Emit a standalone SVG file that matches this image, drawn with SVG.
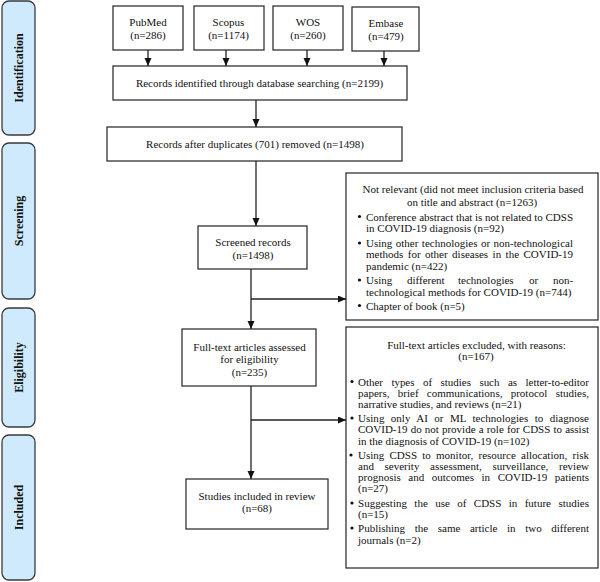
<svg xmlns="http://www.w3.org/2000/svg" width="600" height="582" viewBox="0 0 600 582">
<defs>
<style>
.panel{fill:#cfeafc;stroke:#3a3a3a;stroke-width:1.3}
.plabel{font-family:"Liberation Serif","Times New Roman",serif;font-size:12px;font-weight:bold;fill:#111;text-anchor:middle}
.box{fill:#fff;stroke:#333;stroke-width:1.3}
.t{font-family:"Liberation Serif","Times New Roman",serif;font-size:11px;fill:#111}
.c{text-anchor:middle}
.conn{fill:none;stroke:#222;stroke-width:1.3}
.bul{fill:#111}
</style>
<marker id="ah" markerUnits="userSpaceOnUse" markerWidth="8" markerHeight="8" refX="8" refY="3.5" orient="auto">
<path d="M0,0 L8,3.5 L0,7 z" fill="#111"/>
</marker>
</defs>
<rect width="600" height="582" fill="#fff"/>

<g id="phase-identification">
<rect class="panel" x="2" y="1" width="33" height="134" rx="7"/>
<text class="plabel" transform="translate(23,68) rotate(-90)">Identification</text>
</g>
<g id="phase-screening">
<rect class="panel" x="2" y="143" width="33" height="156" rx="7"/>
<text class="plabel" transform="translate(23,221) rotate(-90)">Screening</text>
</g>
<g id="phase-eligibility">
<rect class="panel" x="2" y="308" width="33" height="119" rx="7"/>
<text class="plabel" transform="translate(23,367.5) rotate(-90)">Eligibility</text>
</g>
<g id="phase-included">
<rect class="panel" x="2" y="435" width="33" height="145" rx="7"/>
<text class="plabel" transform="translate(23,507.5) rotate(-90)">Included</text>
</g>

<g id="pubmed">
<rect class="box" x="113" y="6" width="70" height="44"/>
<text class="t c" x="148" y="26">PubMed</text>
<text class="t c" x="148" y="39">(n=286)</text>
</g>
<g id="scopus">
<rect class="box" x="194" y="6" width="70" height="44"/>
<text class="t c" x="228.5" y="26">Scopus</text>
<text class="t c" x="228.5" y="39">(n=1174)</text>
</g>
<g id="wos">
<rect class="box" x="273" y="6" width="70" height="44"/>
<text class="t c" x="308" y="26">WOS</text>
<text class="t c" x="308" y="39">(n=260)</text>
</g>
<g id="embase">
<rect class="box" x="352" y="7" width="67" height="44"/>
<text class="t c" x="386" y="27">Embase</text>
<text class="t c" x="386" y="40">(n=479)</text>
</g>

<g id="identified">
<rect class="box" x="113" y="66" width="294" height="34"/>
<text class="t c" x="259.5" y="87">Records identified through database searching (n=2199)</text>
</g>
<g id="duplicates">
<rect class="box" x="107" y="127" width="295" height="34"/>
<text class="t c" x="255" y="148">Records after duplicates (701) removed (n=1498)</text>
</g>
<g id="screened">
<rect class="box" x="198" y="226" width="109" height="43"/>
<text class="t c" x="253" y="246">Screened records</text>
<text class="t c" x="253" y="259">(n=1498)</text>
</g>
<g id="fulltext">
<rect class="box" x="182" y="329" width="134" height="57"/>
<text class="t c" x="249.5" y="351">Full-text articles assessed</text>
<text class="t c" x="249.5" y="363">for eligibility</text>
<text class="t c" x="249.5" y="376">(n=235)</text>
</g>
<g id="included">
<rect class="box" x="186" y="479" width="142" height="50"/>
<text class="t c" x="257" y="500">Studies included in review</text>
<text class="t c" x="257" y="512">(n=68)</text>
</g>

<g id="not-relevant">
<rect class="box" x="346" y="173" width="252" height="147"/>
<text class="t c" x="473" y="193">Not relevant (did not meet inclusion criteria based</text>
<text class="t c" x="472" y="205.5">on title and abstract (n=1263)</text>
<circle class="bul" cx="359.5" cy="216.5" r="1.6"/>
<text class="t" x="366" y="220.5" textLength="207" lengthAdjust="spacing">Conference abstract that is not related to CDSS</text>
<text class="t" x="366" y="232">in COVID-19 diagnosis (n=92)</text>
<circle class="bul" cx="359.5" cy="243" r="1.6"/>
<text class="t" x="366" y="247" word-spacing="0.7" textLength="207" lengthAdjust="spacing">Using other technologies or non-technological</text>
<text class="t" x="366" y="258" word-spacing="1.7" textLength="207" lengthAdjust="spacing">methods for other diseases in the COVID-19</text>
<text class="t" x="366" y="270">pandemic (n=422)</text>
<circle class="bul" cx="359.5" cy="280" r="1.6"/>
<text class="t" y="284"><tspan x="366">Using</tspan><tspan x="407">different</tspan><tspan x="458">technologies</tspan><tspan x="529">or</tspan><tspan x="553">non-</tspan></text>
<text class="t" x="366" y="295.5">technological methods for COVID-19 (n=744)</text>
<circle class="bul" cx="359.5" cy="305.5" r="1.6"/>
<text class="t" x="366" y="309.5">Chapter of book (n=5)</text>
</g>

<g id="excluded">
<rect class="box" x="346" y="327" width="252" height="241"/>
<text class="t c" x="476.5" y="349">Full-text articles excluded, with reasons:</text>
<text class="t c" x="476" y="360">(n=167)</text>
<circle class="bul" cx="352" cy="381.5" r="1.6"/>
<text class="t" x="358" y="385.5" word-spacing="5.8" textLength="231" lengthAdjust="spacing">Other types of studies such as letter-to-editor</text>
<text class="t" x="358" y="396.5" word-spacing="5.5" textLength="231" lengthAdjust="spacing">papers, brief communications, protocol studies,</text>
<text class="t" x="358" y="408">narrative studies, and reviews (n=21)</text>
<circle class="bul" cx="352" cy="418" r="1.6"/>
<text class="t" x="358" y="422" word-spacing="3.6" textLength="231" lengthAdjust="spacing">Using only AI or ML technologies to diagnose</text>
<text class="t" x="358" y="433" word-spacing="0.35" textLength="231" lengthAdjust="spacing">COVID-19 do not provide a role for CDSS to assist</text>
<text class="t" x="358" y="445">in the diagnosis of COVID-19 (n=102)</text>
<circle class="bul" cx="351" cy="455" r="1.6"/>
<text class="t" x="358" y="459" word-spacing="2.4" textLength="231" lengthAdjust="spacing">Using CDSS to monitor, resource allocation, risk</text>
<text class="t" x="358" y="470" word-spacing="7.9" textLength="231" lengthAdjust="spacing">and severity assessment, surveillance, review</text>
<text class="t" x="358" y="481" word-spacing="4.8" textLength="231" lengthAdjust="spacing">prognosis and outcomes in COVID-19 patients</text>
<text class="t" x="358" y="492">(n=27)</text>
<circle class="bul" cx="352" cy="503" r="1.6"/>
<text class="t" x="358" y="507" word-spacing="4.6" textLength="231" lengthAdjust="spacing">Suggesting the use of CDSS in future studies</text>
<text class="t" x="358" y="518">(n=15)</text>
<circle class="bul" cx="352" cy="528" r="1.6"/>
<text class="t" x="358" y="532" word-spacing="6.8" textLength="231" lengthAdjust="spacing">Publishing the same article in two different</text>
<text class="t" x="358" y="544">journals (n=2)</text>
</g>

<g id="connectors">
<path class="conn" d="M148,50 V66" marker-end="url(#ah)"/>
<path class="conn" d="M226,50 V66" marker-end="url(#ah)"/>
<path class="conn" d="M307,50 V66" marker-end="url(#ah)"/>
<path class="conn" d="M384,51 V66" marker-end="url(#ah)"/>
<path class="conn" d="M256,100 V127" marker-end="url(#ah)"/>
<path class="conn" d="M256,161 V226" marker-end="url(#ah)"/>
<path class="conn" d="M251,269 V329" marker-end="url(#ah)"/>
<path class="conn" d="M251,299 H346" marker-end="url(#ah)"/>
<path class="conn" d="M251,386 V479" marker-end="url(#ah)"/>
<path class="conn" d="M251,420 H346" marker-end="url(#ah)"/>
</g>
</svg>
